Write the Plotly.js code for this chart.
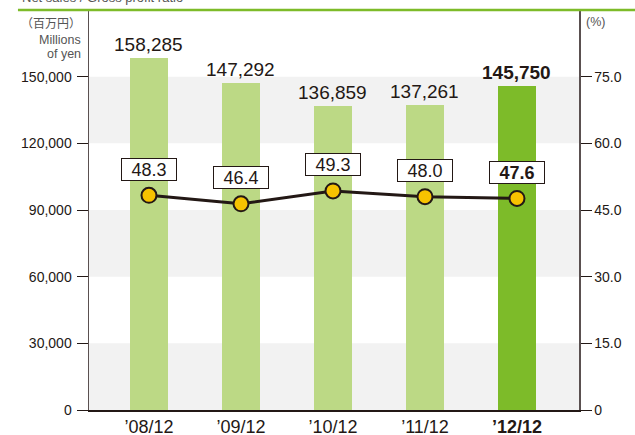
<!DOCTYPE html>
<html><head><meta charset="utf-8">
<script src="https://cdn.plot.ly/plotly-3.0.1.min.js"></script>
<style>body{margin:0;background:#fff}#c{width:635px;height:435px}</style>
</head><body><div id="c"></div>
<script>
var categories = ["\u201908/12", "\u201909/12", "\u201910/12", "\u201911/12", "\u201912/12"];
var netSales = [158285, 147292, 136859, 137261, 145750];
var grossProfitRatio = [48.3, 46.4, 49.3, 48.0, 47.6];
var leftTicks = [0, 30000, 60000, 90000, 120000, 150000];
var rightTicks = [0, 15, 30, 45, 60, 75];
var rightTickText = ["0", "15.0", "30.0", "45.0", "60.0", "75.0"];

var dark = "#231815";
var barColors = categories.map(function(c, i){ return i === categories.length - 1 ? "#7dbb29" : "#bcd985"; });
var tickText = categories.map(function(c, i){ return i === categories.length - 1 ? "<b>" + c + "</b>" : c; });

var traces = [
  {type: "bar", x: categories, y: netSales, marker: {color: barColors}, width: 0.41, hoverinfo: "none"},
  {type: "scatter", mode: "lines+markers", x: categories, y: grossProfitRatio, yaxis: "y2",
   line: {color: dark, width: 3}, marker: {color: "#f7c200", size: 15, line: {color: dark, width: 2}}, hoverinfo: "none"}
];

var shapes = [];
for (var i = 0; i + 1 < leftTicks.length; i += 2) {
  shapes.push({type: "rect", xref: "paper", yref: "y", x0: 0, x1: 1, y0: leftTicks[i], y1: leftTicks[i + 1],
    fillcolor: "#f2f2f2", line: {width: 0}, layer: "below"});
}
shapes.push({type: "line", xref: "paper", yref: "paper", x0: -0.145, x1: 1.12, y0: 1, y1: 1, line: {color: "#7dbb29", width: 2.5}});

var annotations = [];
categories.forEach(function(c, i){
  var last = i === categories.length - 1;
  annotations.push({x: c, y: netSales[i], xref: "x", yref: "y", yanchor: "bottom", yshift: 1, showarrow: false,
    text: last ? "<b>" + netSales[i].toLocaleString("en-US") + "</b>" : netSales[i].toLocaleString("en-US"),
    font: {size: 19, color: dark, family: "Liberation Sans, Arial, sans-serif"}});
  annotations.push({x: c, y: grossProfitRatio[i], xref: "x", yref: "y2", yshift: 26, showarrow: false,
    text: last ? "<b>" + grossProfitRatio[i].toFixed(1) + "</b>" : grossProfitRatio[i].toFixed(1),
    width: 52, height: 19, align: "center",
    bgcolor: "#ffffff", bordercolor: dark, borderwidth: 1, borderpad: 1,
    font: {size: 18, color: dark, family: "Liberation Sans, Arial, sans-serif"}});
});
annotations.push({xref: "paper", yref: "paper", x: -0.012, y: 0.97, xanchor: "right", yanchor: "middle", showarrow: false,
  text: "（百万円）", font: {size: 12, color: "#555", family: "Noto Sans CJK JP, sans-serif"}});
annotations.push({xref: "paper", yref: "paper", x: -0.012, y: 0.925, xanchor: "right", yanchor: "middle", showarrow: false,
  text: "Millions", font: {size: 12.5, color: "#555", family: "Liberation Sans, Arial, sans-serif"}});
annotations.push({xref: "paper", yref: "paper", x: -0.012, y: 0.89, xanchor: "right", yanchor: "middle", showarrow: false,
  text: "of yen", font: {size: 12.5, color: "#555", family: "Liberation Sans, Arial, sans-serif"}});
annotations.push({xref: "paper", yref: "paper", x: 1.01, y: 0.97, xanchor: "left", yanchor: "middle", showarrow: false,
  text: "(%)", font: {size: 12.5, color: "#555", family: "Liberation Sans, Arial, sans-serif"}});
annotations.push({xref: "paper", yref: "paper", x: -0.14, y: 1.0, xanchor: "left", yanchor: "bottom", yshift: 3, showarrow: false,
  text: "Net sales / Gross profit ratio", font: {size: 13, color: "#555", family: "Liberation Sans, Arial, sans-serif"}});

var layout = {
  width: 635, height: 435,
  margin: {l: 89, r: 56, t: 10, b: 25},
  paper_bgcolor: "#fff", plot_bgcolor: "rgba(0,0,0,0)",
  showlegend: false, bargap: 0,
  font: {family: "Liberation Sans, Arial, sans-serif", color: dark},
  xaxis: {type: "category", range: [-0.652, 4.674], tickvals: categories, ticktext: tickText,
    showline: true, linecolor: dark, linewidth: 1.5, ticks: "", tickfont: {size: 18, color: dark}, fixedrange: true, showgrid: false, zeroline: false},
  yaxis: {range: [0, 180000], tickvals: leftTicks, ticktext: leftTicks.map(function(v){ return v.toLocaleString("en-US"); }),
    showline: true, linecolor: "#5a5050", linewidth: 1.5, ticks: "outside", ticklen: 11, tickcolor: dark, tickwidth: 1,
    tickfont: {size: 14, color: dark}, showgrid: false, zeroline: false, ticklabelstandoff: 2},
  yaxis2: {range: [0, 90], overlaying: "y", side: "right", tickvals: rightTicks, ticktext: rightTickText,
    showline: true, linecolor: "#5a5050", linewidth: 1.5, ticks: "outside", ticklen: 11, tickcolor: dark, tickwidth: 1,
    tickfont: {size: 14, color: dark}, showgrid: false, zeroline: false},
  shapes: shapes, annotations: annotations
};
Plotly.newPlot("c", traces, layout, {staticPlot: true, displayModeBar: false});
</script></body></html>
